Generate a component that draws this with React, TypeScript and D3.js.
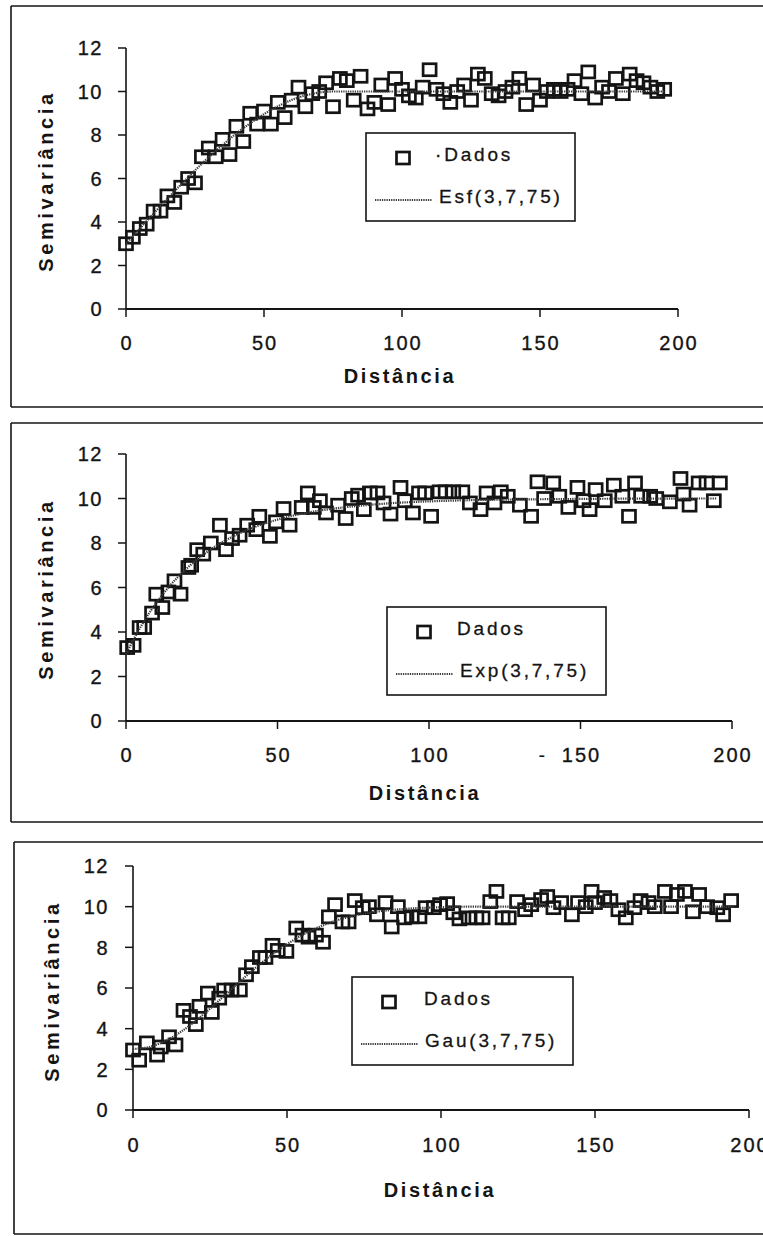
import React from 'react';
import * as d3 from 'd3';

// tick labels
const xTicks = [0, 50, 100, 150, 200];
const yTicks = [0, 2, 4, 6, 8, 10, 12];

const esfDados: [number, number][] = [
  [0, 3.0], [2.5, 3.3], [5, 3.7], [7.5, 3.9], [10, 4.5], [12.5, 4.5], [15, 5.2], [17.5, 4.9],
  [20, 5.6], [22.5, 6.0], [25, 5.8], [27.5, 7.0], [30, 7.4], [32.5, 7.0], [35, 7.8], [37.5, 7.1],
  [40, 8.4], [42.5, 7.7], [45, 9.0], [47.5, 8.5], [50, 9.1], [52.5, 8.5], [55, 9.5], [57.5, 8.8],
  [60, 9.6], [62.5, 10.2], [65, 9.3], [67.5, 9.9], [70, 10.0], [72.5, 10.4], [75, 9.3], [77.5, 10.6],
  [80, 10.5], [82.5, 9.6], [85, 10.7], [87.5, 9.2], [90, 9.5], [92.5, 10.3], [95, 9.4], [97.5, 10.6],
  [100, 10.1], [102.5, 9.8], [105, 9.7], [107.5, 10.2], [110, 11.0], [112.5, 10.1], [115, 9.9],
  [117.5, 9.5], [120, 10.0], [122.5, 10.3], [125, 9.6], [127.5, 10.8], [130, 10.6], [132.5, 9.9],
  [135, 9.8], [137.5, 10.0], [140, 10.2], [142.5, 10.6], [145, 9.4], [147.5, 10.3], [150, 9.6],
  [152.5, 10.0], [155, 10.1], [157.5, 10.0], [160, 10.1], [162.5, 10.5], [165, 9.9], [167.5, 10.9],
  [170, 9.7], [172.5, 10.2], [175, 10.0], [177.5, 10.6], [180, 9.9], [182.5, 10.8], [185, 10.5],
  [187.5, 10.4], [190, 10.2], [192.5, 10.0], [195, 10.1],
];

const expDados: [number, number][] = [
  [0.4, 3.3], [2.5, 3.4], [4.5, 4.2], [6, 4.2], [8.6, 4.85], [10, 5.7], [12, 5.1], [14, 5.8],
  [16, 6.3], [18, 5.7], [20.6, 6.9], [21.5, 7.0], [23.5, 7.7], [25.5, 7.5], [28, 8.0], [31, 8.8],
  [33, 7.7], [35, 8.2], [37.5, 8.35], [40, 8.8], [43, 8.6], [44, 9.2], [47.5, 8.3], [49.5, 8.95],
  [52, 9.55], [54, 8.8], [58, 9.6], [60, 10.25], [62, 9.6], [64, 9.9], [66, 9.35], [70, 9.7],
  [72.5, 9.1], [74.5, 10.0], [76.6, 10.15], [78.5, 9.5], [80.5, 10.25], [83, 10.25], [85, 9.8],
  [87.3, 9.3], [90.6, 10.5], [92, 9.9], [94.7, 9.35], [96.7, 10.25], [98.7, 10.25], [100.7, 9.2],
  [103.5, 10.3], [105.5, 10.3], [108, 10.3], [111, 10.3], [113.5, 9.8], [117, 9.5], [119, 10.25],
  [121.6, 9.8], [123.7, 10.3], [126, 10.1], [130, 9.7], [133.7, 9.2], [135.8, 10.75], [138, 10.0],
  [141, 10.7], [143, 10.1], [146, 9.6], [149, 10.5], [151, 9.9], [153, 9.5], [155, 10.4],
  [158, 9.9], [161, 10.6], [163.8, 10.1], [166, 9.2], [168, 10.7], [170, 10.1], [173, 10.1],
  [175, 10.0], [179.5, 9.85], [183, 10.9], [184, 10.2], [186, 9.7], [189, 10.7], [191.6, 10.7],
  [194, 9.9], [196, 10.7],
];

const gauDados: [number, number][] = [
  [0, 2.95], [2, 2.45], [4.5, 3.3], [7.8, 2.7], [9, 3.1], [11.7, 3.6], [13.8, 3.2], [16.4, 4.9],
  [18.5, 4.6], [20.4, 4.2], [21.6, 5.1], [24.3, 5.75], [25.6, 4.8], [28, 5.5], [29.6, 5.9],
  [32, 5.9], [34.7, 5.9], [36.7, 6.65], [38.6, 7.05], [41.2, 7.5], [43, 7.5], [45.3, 8.1],
  [47, 7.85], [49.8, 7.8], [53, 8.95], [55, 8.6], [57, 8.5], [59.4, 8.6], [61.7, 8.25],
  [63.6, 9.5], [65.6, 10.1], [68, 9.25], [70, 9.25], [72, 10.3], [74.6, 9.95], [76.6, 10.0],
  [79.2, 9.6], [82, 10.2], [84, 9.0], [86, 10.0], [88, 9.45], [90.5, 9.5], [93, 9.5], [95, 9.95],
  [97.7, 9.95], [99.7, 10.1], [102, 10.15], [104, 9.7], [106, 9.4], [109, 9.45], [111.5, 9.45],
  [113.5, 9.45], [116, 10.25], [118, 10.75], [120, 9.45], [122, 9.45], [124.7, 10.25],
  [127.3, 9.85], [129.3, 10.1], [132.5, 10.35], [134.5, 10.5], [136.5, 9.95], [139, 10.2],
  [142.5, 9.6], [144.5, 10.2], [147, 10.0], [148.9, 10.75], [150, 10.2], [153, 10.45],
  [155, 10.3], [157.6, 9.85], [160, 9.45], [162.8, 9.95], [164.8, 10.3], [167.4, 10.2],
  [169.4, 10.0], [172.7, 10.75], [174.7, 10.0], [176.6, 10.6], [179.2, 10.75], [181.8, 9.75],
  [183.8, 10.6], [186.4, 10.0], [189.7, 9.95], [191.6, 9.6], [194.2, 10.3],
];

// curvas dos modelos ajustados
const esfModelo: [number, number][] = [
  [0, 3.0], [5, 3.7], [10, 4.39], [15, 5.07], [20, 5.73], [25, 6.37], [30, 6.98], [35, 7.54],
  [40, 8.07], [45, 8.54], [50, 8.96], [55, 9.32], [60, 9.61], [65, 9.82], [70, 9.95], [75, 10.0],
  [195, 10.0],
];
const expModelo: [number, number][] = [
  [0, 3.0], [2.5, 3.66], [5, 4.27], [10, 5.31], [15, 6.16], [20, 6.85], [25, 7.42], [30, 7.89],
  [35, 8.27], [40, 8.59], [45, 8.84], [50, 9.05], [60, 9.37], [70, 9.57], [80, 9.71], [90, 9.81],
  [100, 9.87], [120, 9.94], [140, 9.97], [160, 9.99], [195, 10.0],
];
const gauModelo: [number, number][] = [
  [0, 3.0], [5, 3.09], [10, 3.36], [15, 3.79], [20, 4.34], [25, 4.98], [30, 5.67], [35, 6.36],
  [40, 7.02], [45, 7.62], [50, 8.15], [55, 8.61], [60, 8.97], [65, 9.27], [70, 9.49], [75, 9.65],
  [80, 9.77], [90, 9.91], [100, 9.97], [110, 10.0], [195, 10.0],
];

const panels = [
  {
    top: 6, bottom: 407, left: 11,
    px: [126, 678], py: [309, 48],
    dados: esfDados, modelo: esfModelo,
    dadosLabel: '·Dados', dadosDx: 69, modeloLabel: 'Esf(3,7,75)',
    box: { x: 366, y: 133, w: 209, h: 88 },
    yTitle: [46, 181], xTitle: [400, 376], xLabY: 343, yLabX: 103,
  },
  {
    top: 423, bottom: 822, left: 11,
    px: [126, 732], py: [721, 454],
    dados: expDados, modelo: expModelo,
    dadosLabel: 'Dados', dadosDx: 70, modeloLabel: 'Exp(3,7,75)',
    box: { x: 387, y: 607, w: 219, h: 88 },
    yTitle: [46, 589], xTitle: [425, 793], xLabY: 755, yLabX: 103,
  },
  {
    top: 842, bottom: 1234, left: 14,
    px: [133, 749], py: [1110, 866],
    dados: gauDados, modelo: gauModelo,
    dadosLabel: 'Dados', dadosDx: 72, modeloLabel: 'Gau(3,7,75)',
    box: { x: 352, y: 977, w: 221, h: 88 },
    yTitle: [52, 991], xTitle: [440, 1190], xLabY: 1145, yLabX: 109,
  },
];

const ink = '#141414';
const lineInk = '#3c3c3c';
const font = '"Liberation Sans", Arial, sans-serif';

function Panel({ p }: { p: (typeof panels)[number] }) {
  const x = d3.scaleLinear().domain([0, 200]).range(p.px);
  const y = d3.scaleLinear().domain([0, 12]).range(p.py);
  const line = d3
    .line<[number, number]>()
    .x((d) => x(d[0]))
    .y((d) => y(d[1]))
    .curve(d3.curveMonotoneX);
  const b = p.box;
  return (
    <g>
      {/* moldura */}
      <line x1={p.left} x2={763} y1={p.top} y2={p.top} stroke={ink} strokeWidth={1.6} />
      <line x1={p.left} x2={p.left} y1={p.top} y2={p.bottom} stroke={ink} strokeWidth={1.6} />
      <line x1={p.left} x2={763} y1={p.bottom} y2={p.bottom} stroke={ink} strokeWidth={1.6} />

      {/* eixos */}
      <line x1={x(0)} x2={x(0)} y1={y(0)} y2={y(12)} stroke={ink} strokeWidth={1.6} />
      <line x1={x(0)} x2={x(200)} y1={y(0)} y2={y(0)} stroke={ink} strokeWidth={1.8} />
      {yTicks.map((t) => (
        <g key={'y' + t}>
          <line x1={x(0) - 8} x2={x(0)} y1={y(t)} y2={y(t)} stroke={ink} strokeWidth={1.5} />
          <text x={p.yLabX} y={y(t)} dy="0.36em" textAnchor="end" fontSize={20}
            letterSpacing={1.5} fontFamily={font} fill={ink} stroke={ink}
            strokeWidth={0.35}>{t}</text>
        </g>
      ))}
      {xTicks.map((t) => (
        <g key={'x' + t}>
          <line x1={x(t)} x2={x(t)} y1={y(0)} y2={y(0) + 8} stroke={ink} strokeWidth={1.5} />
          <text x={x(t) + 1} y={p.xLabY + 7} textAnchor="middle" fontSize={20}
            letterSpacing={2} fontFamily={font} fill={ink} stroke={ink}
            strokeWidth={0.35}>{t}</text>
        </g>
      ))}
      {p.modeloLabel.startsWith('Exp') && (
        <text x={x(150) - 42} y={p.xLabY + 7} fontSize={20} fontFamily={font} fill={ink}>-</text>
      )}

      {/* títulos */}
      <text transform={`translate(${p.yTitle[0] + 7},${p.yTitle[1]}) rotate(-90)`}
        textAnchor="middle" fontSize={20} fontWeight="bold" letterSpacing={3.6}
        fontFamily={font} fill={ink}>Semivariância</text>
      <text x={p.xTitle[0]} y={p.xTitle[1] + 7} textAnchor="middle" fontSize={20}
        fontWeight="bold" letterSpacing={2.6} fontFamily={font} fill={ink}>Distância</text>

      {/* dados */}
      {p.dados.map((d, i) => (
        <rect key={i} x={x(d[0]) - 6.5} y={y(d[1]) - 6} width={13} height={12}
          fill="none" stroke={ink} strokeWidth={2.7} />
      ))}
      <path d={line(p.modelo) || ''} fill="none" stroke={lineInk} strokeWidth={2.2}
        strokeDasharray="1.3 1" />

      {/* legenda */}
      <rect x={b.x} y={b.y} width={b.w} height={b.h} fill="#fff" stroke={ink} strokeWidth={1.6} />
      <rect x={b.x + 37 - 6.5} y={b.y + 25 - 6} width={13} height={12} fill="none"
        stroke={ink} strokeWidth={2.7} />
      <text x={b.x + p.dadosDx} y={b.y + 28} fontSize={19} letterSpacing={2.8}
        fontFamily={font} fill={ink} stroke={ink} strokeWidth={0.3}>{p.dadosLabel}</text>
      <line x1={b.x + 9} x2={b.x + 66} y1={b.y + 67} y2={b.y + 67} stroke={lineInk}
        strokeWidth={2.2} strokeDasharray="1.3 1" />
      <text x={b.x + 73} y={b.y + 70} fontSize={19} letterSpacing={2.8}
        fontFamily={font} fill={ink} stroke={ink} strokeWidth={0.3}>{p.modeloLabel}</text>
    </g>
  );
}

export default function App() {
  return (
    <svg width={763} height={1236} viewBox="0 0 763 1236"
      style={{ position: 'absolute', left: 0, top: 0, background: '#fff' }}>
      <rect width={763} height={1236} fill="#fff" />
      {panels.map((p, i) => (
        <Panel key={i} p={p} />
      ))}
    </svg>
  );
}
